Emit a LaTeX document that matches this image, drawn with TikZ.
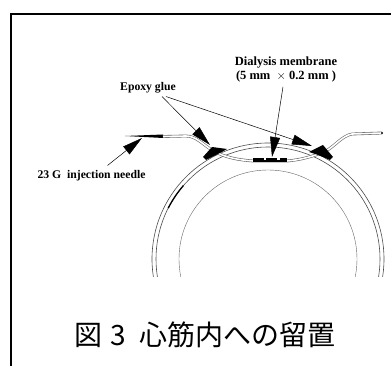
\documentclass[tikz,border=0pt]{standalone}
\usepackage{fontspec}
\setmainfont{Liberation Serif}
\newfontfamily\jpfont{Noto Sans CJK JP}
\usetikzlibrary{arrows.meta}

\begin{document}
\begin{tikzpicture}[x=1pt,y=1pt]
\tikzstyle{every node}+=[inner sep=0pt]
\tikzstyle{lbl}=[font=\fontsize{11.7}{13.5}\selectfont\bfseries, align=center]
\tikzstyle{ptr}=[line width=0.5pt, -{Triangle[length=20pt,width=10pt]}]
\tikzstyle{tube}=[draw=black!60, line width=0.6pt, double=white, double distance=1.6pt]
\tikzstyle{wall}=[draw=black!70, line width=0.6pt]

\useasboundingbox (0,0) rectangle (391,366);
\draw [line width=1.3pt] (391,352) -- (11,352) -- (11,0);

% heart wall and cavity
\begin{scope}
\clip (140,89) rectangle (391,230);
\draw [wall] (268,107) circle (116);
\draw [wall] (268,107) circle (112);
\draw [black!60, line width=0.4pt] (268,107) circle (89);
\draw [line width=1.3pt] (268,107) ++(139:112) arc (139:153:112);
\end{scope}

% catheter with needle
\fill (125,230) -- (163,231.5) -- (163,228) -- cycle;
\draw [tube] (163,229.5) -- (186,230) .. controls (196,230) and (202,222) .. (212,216)
  .. controls (225,208) and (240,206) .. (253,205) -- (287,205)
  .. controls (300,206) and (315,210) .. (326,215)
  .. controls (336,221) and (342,230) .. (352,232) -- (382,233);
\fill (382,233) circle (1.2);

% membrane
\fill (253,203.5) rectangle (287,207.5);
\fill [white] (264,205.5) rectangle (265.5,207.5);
\fill [white] (277,205.5) rectangle (279.5,207.5);

% glue
\fill (212,219) -- (227,217) -- (222,214) -- (206,206) -- (203,209) -- cycle;
\fill (309,214) -- (323,221) -- (333,209) -- (330,206) -- (318,211) -- cycle;

\node [lbl, font=\fontsize{12.5}{14}\selectfont\bfseries] (mem) at (286,296) {Dialysis membrane\\(5 mm \ $\times$ 0.2 mm )};
\node [lbl] (glue) at (148,278) {Epoxy glue};
\node [lbl] (needle) at (91.5,190) {23 G \ injection needle};
\node (cap) at (205,31) {\jpfont\fontsize{28}{30}\selectfont 図\hspace{8pt}3\hspace{14pt}心筋内への留置};

\coordinate (memtip) at (272,209);
\coordinate (glueL) at (210,221);
\coordinate (glueR) at (312,220);
\coordinate (needletip) at (142,228);

\draw [ptr] ([xshift=-3pt,yshift=-4pt]mem.south) -- (memtip);
\draw [ptr] ([xshift=14pt,yshift=-3pt]glue.south) -- (glueL);
\draw [ptr] ([xshift=18pt,yshift=-3pt]glue.south) -- (glueR);
\draw [ptr] ([xshift=16pt,yshift=5pt]needle.north) -- (needletip);
\end{tikzpicture}
\end{document}
